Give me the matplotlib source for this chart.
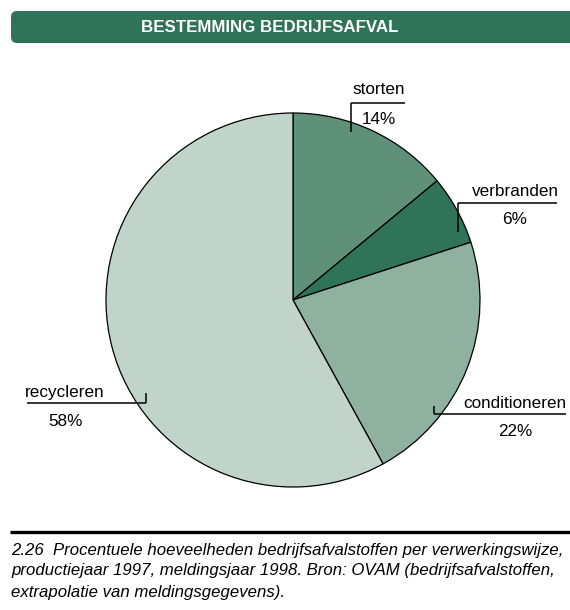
import matplotlib
matplotlib.use("Agg")
import matplotlib.pyplot as plt
from matplotlib.patches import FancyBboxPatch

categories = ["storten", "verbranden", "conditioneren", "recycleren"]
shares = [14, 6, 22, 58]
colors = ["#5f9179", "#2f7358", "#8fb19f", "#c0d4cb"]

title = "BESTEMMING BEDRIJFSAFVAL"
caption = [
    "2.26  Procentuele hoeveelheden bedrijfsafvalstoffen per verwerkingswijze,",
    "productiejaar 1997, meldingsjaar 1998. Bron: OVAM (bedrijfsafvalstoffen,",
    "extrapolatie van meldingsgegevens).",
]

W, H = 570, 610
plt.rcParams["font.family"] = ["Liberation Sans", "DejaVu Sans"]

fig = plt.figure(figsize=(W / 100, H / 100), dpi=100)
ax = fig.add_axes([0, 0, 1, 1])


def Y(y):
    return H - y


# header bar
bar = FancyBboxPatch((11 + 6, Y(43) + 6), W + 20, 32 - 12,
                     boxstyle="round,pad=6", facecolor="#2f7358",
                     edgecolor="none")
ax.add_patch(bar)
ax.text(270, Y(27), title, color="white", fontsize=12.2, fontweight="bold",
        ha="center", va="center")

# pie
ax.pie(shares, colors=colors, startangle=90, counterclock=False,
       center=(293, Y(300)), radius=187,
       wedgeprops=dict(edgecolor="black", linewidth=0.9))

# label brackets: (line x0, x1, line y, tick x, tick end y, name x, y, pct x, y)
labels = [
    (351, 405, 103, 351, 132, 379, 90, 379, 119),
    (458, 557, 203, 458, 232, 515, 192, 515, 219),
    (434, 566, 414, 434, 406, 515, 404, 515, 432),
    (27, 146, 403, 146, 393, 65, 393, 65, 421),
]
for (name, pct), (x0, x1, ly, tx, ty, nx, ny, px, py) in zip(
        zip(categories, shares), labels):
    ax.plot([x0, x1], [Y(ly), Y(ly)], color="black", lw=1.1,
            solid_capstyle="butt")
    ax.plot([tx, tx], [Y(ly), Y(ty)], color="black", lw=1.1,
            solid_capstyle="butt")
    ax.text(nx, Y(ny), name, fontsize=12.3, ha="center", va="center")
    ax.text(px, Y(py), f"{pct}%", fontsize=12.3, ha="center", va="center")

# bottom rule and caption
ax.plot([10, W], [Y(532), Y(532)], color="black", lw=2.4,
        solid_capstyle="butt")
for i, line in enumerate(caption):
    ax.text(11, Y(550 + 21 * i), line, fontsize=12.1, style="italic",
            ha="left", va="center")

ax.set_xlim(0, W)
ax.set_ylim(0, H)
ax.set_aspect("auto")
ax.axis("off")

fig.savefig("out.png", dpi=100)
